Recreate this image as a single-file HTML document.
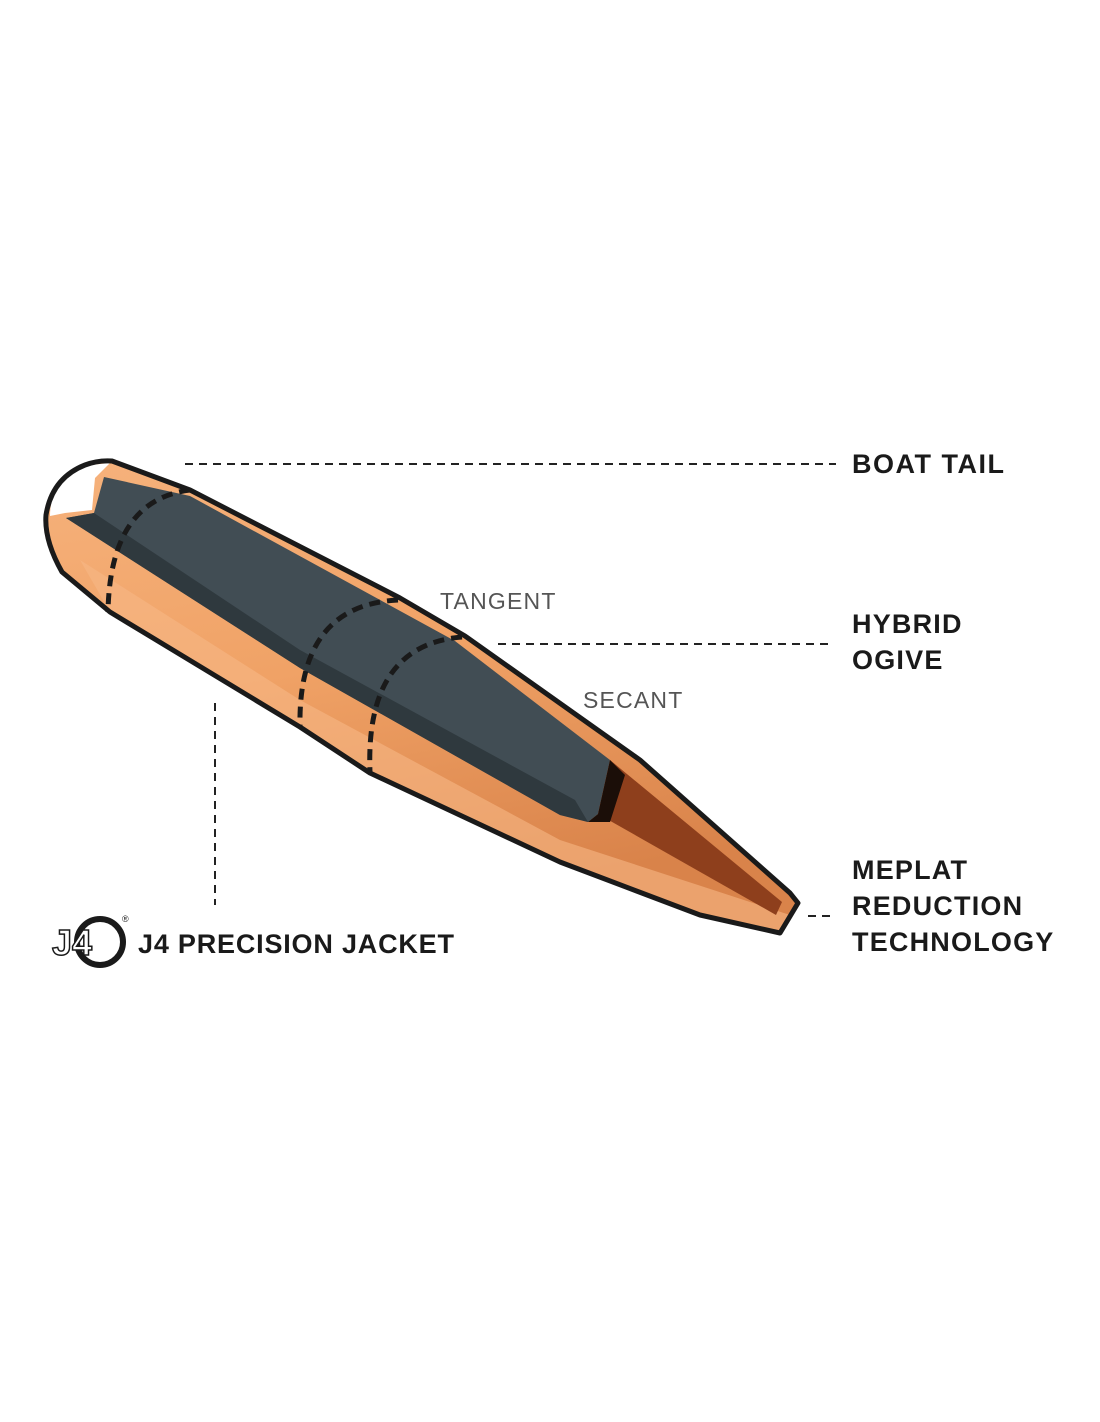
<!DOCTYPE html>
<html><head><meta charset="utf-8"><style>
html,body{margin:0;padding:0;background:#fff;}
body{width:1100px;height:1422px;position:relative;overflow:hidden;font-family:"Liberation Sans",sans-serif;}
.b{position:absolute;font-weight:bold;font-size:27px;color:#1a1a1a;line-height:36px;letter-spacing:1.2px}
.g{position:absolute;font-size:23px;color:#555;line-height:28px;letter-spacing:1.2px}
</style></head><body>
<svg width="1100" height="1422" style="position:absolute;left:0;top:0">
<defs>
<linearGradient id="cu" x1="0" y1="0" x2="0.3" y2="1">
<stop offset="0" stop-color="#f6b27c"/><stop offset="0.5" stop-color="#f0a266"/><stop offset="1" stop-color="#d9834a"/>
</linearGradient>
</defs>
<g stroke="#222" stroke-width="2" stroke-dasharray="8,6" fill="none">
<line x1="185" y1="464" x2="836" y2="464"/>
<line x1="498" y1="644" x2="834" y2="644"/>
<line x1="808" y1="916" x2="834" y2="916"/>
<line x1="215" y1="703" x2="215" y2="905"/>
</g>
<path d="M112,461 L190,490 L400,598 L465,636 L640,760 L790,893 L798,903 L780,933 L700,915 L560,862 L370,773 L300,727 L110,612 L62,572 Q44,540 46,515 Q52,478 85,465 Q98,460 112,461 Z" fill="url(#cu)"/>
<path d="M110,612 L300,727 L370,773 L560,862 L700,915 L780,933 L790,915 L560,840 L300,700 L80,560 Z" fill="#f7b886" opacity="0.6"/>
<path d="M50,516 Q50,478 90,465 L110,463 L95,478 L92,510 L65,513 Z" fill="#fff"/>
<path d="M104,477 L190,496 L455,641 L610,760 L598,814 L588,822 L560,815 L300,668 L66,518 L94,513 Z" fill="#414d54"/>
<path d="M66,518 L94,513 L300,650 L575,800 L588,822 L560,815 L300,668 Z" fill="#2f393e"/>
<path d="M610,760 L782,902 L776,915 L598,814 Z" fill="#8e3f1c"/>
<path d="M610,760 L625,775 L610,822 L588,822 L598,814 Z" fill="#1b0e08"/>
<path d="M112,461 L190,490 L400,598 L465,636 L640,760 L790,893 L798,903 L780,933 L700,915 L560,862 L370,773 L300,727 L110,612 L62,572 Q44,540 46,515 Q52,478 85,465 Q98,460 112,461 Z" fill="none" stroke="#1a1a1a" stroke-width="5" stroke-linejoin="round"/>
<g stroke="#1a1a1a" stroke-width="5" stroke-dasharray="11,7" fill="none">
<path d="M190,490 Q110,500 108,612"/>
<path d="M398,600 Q298,605 300,726"/>
<path d="M462,637 Q365,645 370,772"/>
</g>
<circle cx="100" cy="942" r="23" fill="none" stroke="#1a1a1a" stroke-width="6"/>
<text x="52" y="955" font-family="Liberation Sans" font-weight="bold" font-size="36" fill="#fff" stroke="#1a1a1a" stroke-width="1.5">J4</text>
<text x="122" y="922" font-family="Liberation Sans" font-size="9" fill="#1a1a1a">®</text>
</svg>
<div class="b" style="left:852px;top:446px;letter-spacing:1.5px">BOAT TAIL</div>
<div class="g" style="left:440px;top:587px">TANGENT</div>
<div class="b" style="left:852px;top:606px">HYBRID<br>OGIVE</div>
<div class="g" style="left:583px;top:686px">SECANT</div>
<div class="b" style="left:852px;top:852px">MEPLAT<br>REDUCTION<br>TECHNOLOGY</div>
<div class="b" style="left:138px;top:926px;letter-spacing:0.8px">J4 PRECISION JACKET</div>
</body></html>
